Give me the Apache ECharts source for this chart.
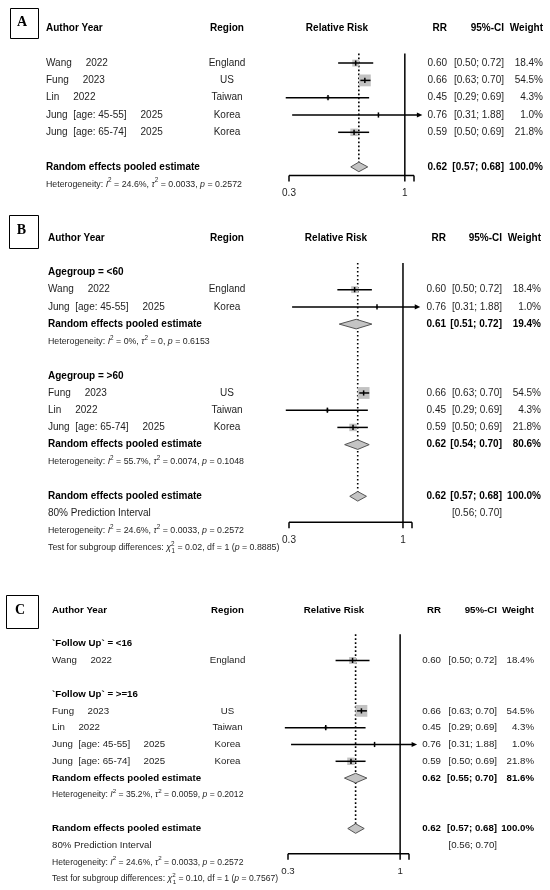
<!DOCTYPE html>
<html><head><meta charset="utf-8">
<script src="https://cdn.jsdelivr.net/npm/echarts@6/dist/echarts.min.js"></script>
<style>html,body{margin:0;padding:0;background:#fff}#c{width:550px;height:890px}</style>
</head><body><div id="c"></div>
<script>
const FONT = '"Liberation Sans", Arial, sans-serif';
const SERIF = '"Liberation Serif", "Times New Roman", serif';

// ---------- data ----------
const headerLabels = ['Author Year', 'Region', 'Relative Risk', 'RR', '95%-CI', 'Weight'];
const authors = ['Wang', 'Fung', 'Lin', 'Jung  [age: 45-55]', 'Jung  [age: 65-74]'];
const years = ['2022', '2023', '2022', '2025', '2025'];
const regions = ['England', 'US', 'Taiwan', 'Korea', 'Korea'];
const studyRR = [0.60, 0.66, 0.45, 0.76, 0.59];
const studyLow = [0.50, 0.63, 0.29, 0.31, 0.50];
const studyHigh = [0.72, 0.70, 0.69, 1.88, 0.69];
const studyWeight = [18.4, 54.5, 4.3, 1.0, 21.8];

const pooledLabel = 'Random effects pooled estimate';
const predLabel = '80% Prediction Interval';
const overallRR = 0.62, overallLow = 0.57, overallHigh = 0.68, overallWeight = 100.0;
const overallI2 = '24.6%', overallTau2 = '0.0033', overallP = '0.2572';
const predLow = 0.56, predHigh = 0.70;

const ageGroupLabels = ['Agegroup = <60', 'Agegroup = >60'];
const ageGroupMembers = [[0, 3], [1, 2, 4]];
const ageGroupRR = [0.61, 0.62];
const ageGroupLow = [0.51, 0.54];
const ageGroupHigh = [0.72, 0.70];
const ageGroupWeight = [19.4, 80.6];
const ageGroupI2 = ['0%', '55.7%'];
const ageGroupTau2 = ['0', '0.0074'];
const ageGroupP = ['0.6153', '0.1048'];
const ageTest = ['0.02', '1', '0.8885'];

const fuGroupLabels = ['`Follow Up` = <16', '`Follow Up` = >=16'];
const fuGroupMembers = [[0], [1, 2, 3, 4]];
const fuGroupRR = [null, 0.62];
const fuGroupLow = [null, 0.55];
const fuGroupHigh = [null, 0.70];
const fuGroupWeight = [null, 81.6];
const fuGroupI2 = [null, '35.2%'];
const fuGroupTau2 = [null, '0.0059'];
const fuGroupP = [null, '0.2012'];
const fuTest = ['0.10', '1', '0.7567'];

const axisTickValues = [0.3, 1, 1.1];
const axisTickLabels = ['0.3', '1', ''];
const refValue = 1;
const xMin = 0.3, xMax = 1.1, arrowLimit = 1.2;

// ---------- row layout builders ----------
function buildA() {
  const s = [{kind: 'header', row: 0}];
  let r = 2;
  for (let i = 0; i < authors.length; i++) s.push({kind: 'study', row: r++, i});
  r++;
  const overallRow = r;
  s.push({kind: 'pooled', row: r++, rr: overallRR, lo: overallLow, hi: overallHigh, w: overallWeight});
  s.push({kind: 'het', row: r++, i2: overallI2, tau2: overallTau2, p: overallP});
  return {specs: s, overallRow, axisRow: overallRow + 0.5, last: r - 1};
}
function buildSub(labels, members, gRR, gLow, gHigh, gW, gI2, gTau2, gP, test) {
  const s = [{kind: 'header', row: 0}];
  let r = 2;
  labels.forEach((lab, g) => {
    s.push({kind: 'group', row: r++, text: lab});
    members[g].forEach(i => s.push({kind: 'study', row: r++, i}));
    if (gRR[g] != null) {
      s.push({kind: 'pooled', row: r++, rr: gRR[g], lo: gLow[g], hi: gHigh[g], w: gW[g]});
      s.push({kind: 'het', row: r++, i2: gI2[g], tau2: gTau2[g], p: gP[g]});
    }
    r++;
  });
  const overallRow = r;
  s.push({kind: 'pooled', row: r++, rr: overallRR, lo: overallLow, hi: overallHigh, w: overallWeight});
  s.push({kind: 'pi', row: r++, lo: predLow, hi: predHigh});
  const axisRow = r - 0.5;
  s.push({kind: 'het', row: r++, i2: overallI2, tau2: overallTau2, p: overallP});
  s.push({kind: 'test', row: r++, chi2: test[0], df: test[1], p: test[2]});
  return {specs: s, overallRow, axisRow, last: r - 1};
}

const panels = [
  {letter: 'A', box: [8, 6, 28, 30], gridLeft: 289, gridWidth: 125, y0: 28.5, step: 17.3, fs: 10, sm: 8.8,
   xAuthor: 46, xRegion: 227, xRRhdr: 337, xRR: 447, xCI: 504, xW: 543, layout: buildA()},
  {letter: 'B', box: [7, 213, 29, 33], gridLeft: 289, gridWidth: 123, y0: 238, step: 17.22, fs: 10, sm: 8.8,
   xAuthor: 48, xRegion: 227, xRRhdr: 336, xRR: 446, xCI: 502, xW: 541,
   layout: buildSub(ageGroupLabels, ageGroupMembers, ageGroupRR, ageGroupLow, ageGroupHigh, ageGroupWeight, ageGroupI2, ageGroupTau2, ageGroupP, ageTest)},
  {letter: 'C', box: [4, 593, 32, 33], gridLeft: 288, gridWidth: 121, y0: 610, step: 16.81, fs: 9.7, sm: 8.6,
   xAuthor: 52, xRegion: 227.5, xRRhdr: 334, xRR: 441, xCI: 497, xW: 534,
   layout: buildSub(fuGroupLabels, fuGroupMembers, fuGroupRR, fuGroupLow, fuGroupHigh, fuGroupWeight, fuGroupI2, fuGroupTau2, fuGroupP, fuTest)}
];

const f2 = v => v.toFixed(2);
const ciText = (lo, hi) => '[' + f2(lo) + '; ' + f2(hi) + ']';
const wText = w => w.toFixed(1) + '%';

function makeRender(P) {
  const specs = P.items;
  const TXT = '#1e1e1e';
  const T = (text, x, y, align, bold, size, extra) => ({
    type: 'text', x, y,
    style: Object.assign({text, fill: bold ? '#000' : TXT, fontSize: size, fontFamily: FONT,
      fontWeight: bold ? 'bold' : 'normal', align, verticalAlign: 'middle'}, extra || {})
  });
  const LH = 13;
  const rich = {
    it: {fontStyle: 'italic', fontSize: P.sm, fontFamily: FONT, fill: TXT, lineHeight: LH},
    sup: {fontSize: P.sm * 0.72, fontFamily: FONT, fill: TXT, verticalAlign: 'top', lineHeight: LH},
    supw: {fontSize: P.sm * 0.72, fontFamily: FONT, fill: TXT, verticalAlign: 'top', lineHeight: LH, width: 0.5},
    sub: {fontSize: P.sm * 0.72, fontFamily: FONT, fill: TXT, verticalAlign: 'bottom', lineHeight: LH}
  };
  return function (params, api) {
    const s = specs[params.dataIndex];
    const X = (v, row) => api.coord([v, row == null ? s.row : row])[0];
    const Y = row => api.coord([1, row])[1];
    const y = Y(s.row);
    const ch = [];
    const lineStyle = {stroke: '#000', lineWidth: 1.5};
    switch (s.kind) {
      case 'ref': {
        const L = P.layout;
        ch.push({type: 'line', shape: {x1: X(overallRR), y1: Y(1.45), x2: X(overallRR), y2: Y(L.overallRow)},
          style: {stroke: '#000', lineWidth: 1.6, lineDash: [1.6, 2.4]}});
        ch.push({type: 'line', shape: {x1: X(refValue), y1: Y(1.45), x2: X(refValue), y2: Y(L.axisRow)}, style: lineStyle});
        break;
      }
      case 'axis': {
        const ay = Y(P.layout.axisRow);
        ch.push({type: 'line', shape: {x1: X(xMin), y1: ay, x2: X(xMax), y2: ay}, style: lineStyle});
        axisTickValues.forEach((v, k) => {
          const tx = X(v);
          ch.push({type: 'line', shape: {x1: tx, y1: ay, x2: tx, y2: ay + 6}, style: lineStyle});
          if (axisTickLabels[k]) ch.push(T(axisTickLabels[k], tx, ay + 18, 'center', false, P.fs));
        });
        break;
      }
      case 'header': {
        const xs = [P.xAuthor, P.xRegion, P.xRRhdr, P.xRR, P.xCI, P.xW];
        const al = ['left', 'center', 'center', 'right', 'right', 'right'];
        headerLabels.forEach((h, k) => ch.push(T(h, xs[k], y, al[k], true, P.fs)));
        break;
      }
      case 'group':
        ch.push(T(s.text, P.xAuthor, y, 'left', true, P.fs));
        break;
      case 'study': {
        const i = s.i;
        const side = 1.6 * Math.sqrt(studyWeight[i]);
        const xr = X(studyRR[i]);
        ch.push({type: 'rect', shape: {x: xr - side / 2, y: y - side / 2, width: side, height: side},
          style: {fill: '#c2c2c2'}});
        const arrow = studyHigh[i] > arrowLimit;
        const xh = X(Math.min(studyHigh[i], arrowLimit));
        ch.push({type: 'line', shape: {x1: X(studyLow[i]), y1: y, x2: arrow ? xh - 4 : xh, y2: y}, style: lineStyle});
        if (arrow) ch.push({type: 'polygon', shape: {points: [[xh, y], [xh - 5.5, y - 2.6], [xh - 5.5, y + 2.6]]},
          style: {fill: '#000'}});
        ch.push({type: 'line', shape: {x1: xr, y1: y - 2.6, x2: xr, y2: y + 2.6}, style: lineStyle});
        ch.push(T(authors[i] + '     ' + years[i], P.xAuthor, y, 'left', false, P.fs));
        ch.push(T(regions[i], P.xRegion, y, 'center', false, P.fs));
        ch.push(T(f2(studyRR[i]), P.xRR, y, 'right', false, P.fs));
        ch.push(T(ciText(studyLow[i], studyHigh[i]), P.xCI, y, 'right', false, P.fs));
        ch.push(T(wText(studyWeight[i]), P.xW, y, 'right', false, P.fs));
        break;
      }
      case 'pooled': {
        const h = 4.8;
        ch.push({type: 'polygon', shape: {points: [[X(s.lo), y], [X(s.rr), y - h], [X(s.hi), y], [X(s.rr), y + h]]},
          style: {fill: '#c4c4c4', stroke: '#555', lineWidth: 1}});
        ch.push(T(pooledLabel, P.xAuthor, y, 'left', true, P.fs));
        ch.push(T(f2(s.rr), P.xRR, y, 'right', true, P.fs));
        ch.push(T(ciText(s.lo, s.hi), P.xCI, y, 'right', true, P.fs));
        ch.push(T(wText(s.w), P.xW, y, 'right', true, P.fs));
        break;
      }
      case 'pi':
        ch.push(T(predLabel, P.xAuthor, y, 'left', false, P.fs));
        ch.push(T(ciText(s.lo, s.hi), P.xCI, y, 'right', false, P.fs));
        break;
      case 'het':
        ch.push(T('Heterogeneity: {it|I}{sup|2} = ' + s.i2 + ', {it|τ}{sup|2} = ' + s.tau2 + ', {it|p} = ' + s.p,
          P.xAuthor, y, 'left', false, P.sm, {rich, lineHeight: LH}));
        break;
      case 'test':
        ch.push(T('Test for subgroup differences: {it|χ}{supw|2}{sub|1} = ' + s.chi2 + ', df = ' + s.df + ' ({it|p} = ' + s.p + ')',
          P.xAuthor, y, 'left', false, P.sm, {rich, lineHeight: LH}));
        break;
    }
    return {type: 'group', children: ch};
  };
}

const grid = [], xAxis = [], yAxis = [], series = [], graphic = [];
panels.forEach((P, k) => {
  const L = P.layout;
  const yMaxRow = L.last + 0.5;
  P.items = [{kind: 'ref', row: 1}, {kind: 'axis', row: 1}].concat(L.specs);
  grid.push({left: P.gridLeft, width: P.gridWidth, top: P.y0 - P.step, height: P.step * (yMaxRow + 1), containLabel: false});
  xAxis.push({type: 'log', logBase: 10, min: xMin, max: xMax, gridIndex: k, show: false});
  yAxis.push({type: 'value', inverse: true, min: -1, max: yMaxRow, gridIndex: k, show: false});
  series.push({
    type: 'custom', xAxisIndex: k, yAxisIndex: k, coordinateSystem: 'cartesian2d', clip: false, silent: true,
    renderItem: makeRender(P),
    data: P.items.map(it => [xMin, it.row])
  });
  const b = P.box;
  graphic.push({type: 'rect', left: b[0], top: b[1], shape: {width: b[2], height: b[3]},
    style: {fill: 'none', stroke: '#000', lineWidth: 1}});
  graphic.push({type: 'text', x: b[0] + b[2] / 2, y: b[1] + b[3] / 2 + 1,
    style: {text: P.letter, font: 'bold 14px ' + SERIF, fill: '#000', align: 'center', verticalAlign: 'middle'}});
});

const chart = echarts.init(document.getElementById('c'), null, {renderer: 'canvas'});
chart.setOption({animation: false, backgroundColor: '#fff', grid, xAxis, yAxis, series, graphic});
</script></body></html>
